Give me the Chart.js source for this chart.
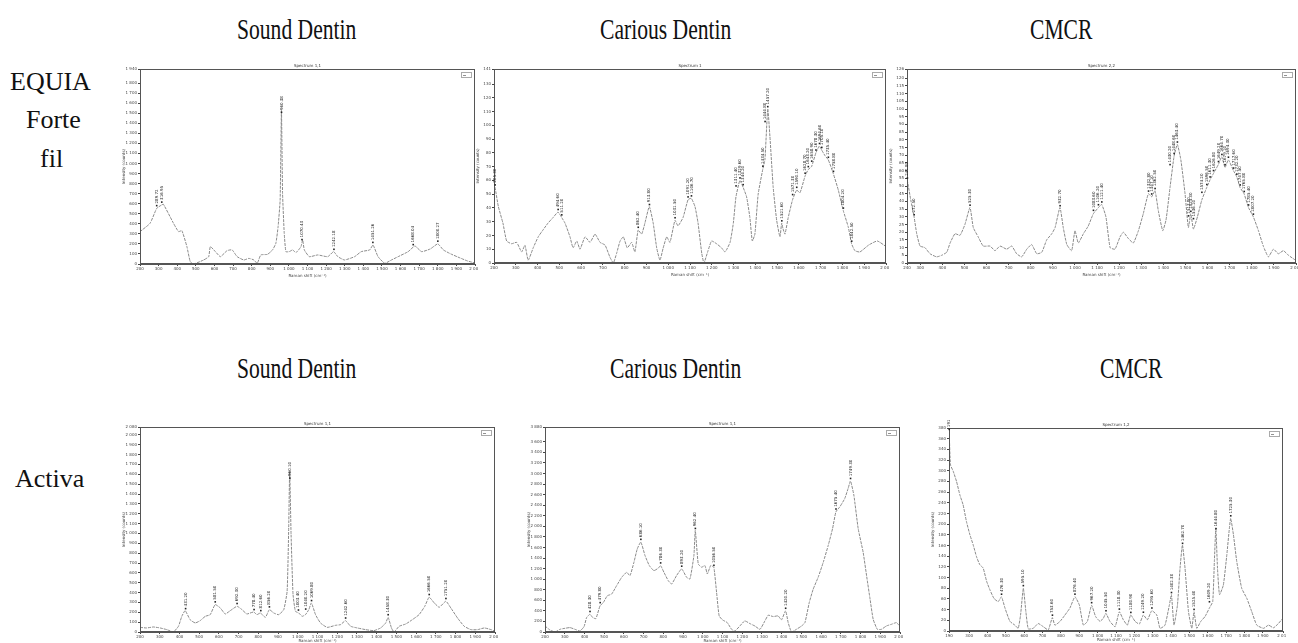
<!DOCTYPE html>
<html>
<head>
<meta charset="utf-8">
<script src="https://cdn.jsdelivr.net/npm/chart.js@4.4.0/dist/chart.umd.min.js"></script>
<style>
  body { margin: 0; background: #fff; width: 1298px; height: 643px; overflow: hidden; position: relative; }
  .lab { position: absolute; font-family: "Liberation Serif", "Times New Roman", serif; color: #111; white-space: nowrap; line-height: 1; transform-origin: 0 0; }
  .panel { position: absolute; }
</style>
</head>
<body>

<script>
// EQUIA Forte fil - sound dentin
const equiaSoundX = [200,254,290,317,326,380,407,425,452,470,488,542,569,578,605,632,668,695,722,758,785,812,830,849,885,912,930,942,953,960,966,975,984,1002,1020,1038,1065,1074,1083,1110,1155,1209,1240,1263,1299,1353,1389,1434,1452,1479,1515,1551,1587,1641,1677,1713,1760,1800,1830,1870,1920,1960,2000];
const equiaSoundY = [322,405,554,588,594,405,322,332,173,23,0,40,73,173,123,73,133,140,73,40,56,40,7,90,96,140,206,372,637,1534,704,305,123,123,140,113,173,239,140,73,90,73,123,73,40,73,123,140,189,73,7,40,73,123,179,123,150,200,140,100,60,30,10];
const equiaSoundPeaks = [289.72, 316.95, 960.38, 1070.43, 1242.18, 1451.26, 1668.04, 1800.27];

// EQUIA Forte fil - carious dentin
const equiaCariousX = [205,220,241,258,281,304,327,342,357,380,403,425,448,471,494,511,526,549,563,580,595,618,641,664,687,710,733,748,763,779,794,812,832,847,862,878,893,913,931,947,962,977,993,1008,1031,1045,1068,1091,1106,1123,1137,1154,1164,1183,1199,1222,1245,1261,1284,1299,1311,1329,1344,1360,1375,1386,1398,1413,1434,1444,1457,1467,1482,1498,1513,1521,1527,1536,1551,1571,1590,1605,1628,1643,1658,1678,1694,1705,1720,1735,1758,1781,1804,1827,1842,1857,1880,1920,1960,2000];
const equiaCariousY = [55,41,29,16,14,15,8,13,2,11,19,24,29,33,37,33,29,19,11,16,10,19,15,21,15,13,4,0,7,16,19,11,15,8,24,21,29,41,29,11,2,11,19,15,31,27,33,46,47,41,29,7,0,9,16,14,11,8,15,29,48,60,55,48,33,16,21,50,68,75,112,92,55,31,19,29,25,21,33,46,53,51,63,68,70,80,85,82,78,75,65,53,38,26,14,9,8,13,16,12];
const equiaCariousPeaks = [205.3, 494.6, 511.2, 862.4, 913.8, 1031.5, 1091.2, 1106.7, 1311.4, 1329.6, 1344.2, 1434.5, 1444.8, 1457.2, 1521.6, 1571.3, 1590.1, 1628.7, 1643.2, 1658.9, 1678.3, 1694.6, 1705.1, 1735.4, 1758.8, 1804.2, 1842.5];

// EQUIA Forte fil - CMCR
const equiaCmcrX = [241,257,272,284,299,321,344,374,397,420,435,457,480,502,525,540,562,585,616,638,661,691,714,736,759,782,804,827,850,872,895,910,932,947,963,985,1000,1015,1038,1060,1083,1106,1121,1140,1159,1181,1204,1219,1241,1264,1287,1309,1332,1347,1362,1377,1397,1412,1430,1448,1463,1479,1498,1513,1524,1536,1554,1574,1596,1611,1626,1649,1664,1679,1694,1717,1732,1747,1765,1785,1807,1830,1852,1875,1898,1920,1943,1966,1996];
const equiaCmcrY = [54,41,30,19,11,10,6,4,5,7,13,19,18,25,36,23,17,11,11,8,11,9,11,6,4,9,12,6,7,15,19,23,36,23,12,8,21,13,19,24,32,36,38,30,10,9,17,20,16,13,21,32,45,43,47,34,21,28,49,69,77,67,45,23,32,22,30,41,49,54,58,64,69,62,67,60,56,49,45,36,30,21,11,4,9,6,8,5,2];
const equiaCmcrPeaks = [241.8, 272.5, 525.3, 932.7, 1083.6, 1106.2, 1121.4, 1332.8, 1347.1, 1362.5, 1430.2, 1448.6, 1463.4, 1513.8, 1524.3, 1536.1, 1574.2, 1596.5, 1611.3, 1626.8, 1649.2, 1664.7, 1679.1, 1694.3, 1717.6, 1732.2, 1747.5, 1765.8, 1785.4, 1807.2];

// Activa - sound dentin
const activaSoundX = [200,234,268,302,336,369,395,412,429,454,480,505,531,556,581,607,632,658,692,717,742,776,793,810,836,856,878,903,929,946,954,959,966,976,988,1005,1022,1039,1056,1069,1090,1115,1149,1192,1217,1242,1268,1302,1344,1386,1420,1446,1458,1475,1488,1514,1547,1581,1615,1644,1666,1692,1717,1751,1776,1810,1844,1878,1912,1946,1980,2000];
const activaSoundY = [47,41,51,41,24,0,58,159,217,125,92,115,159,176,278,244,183,217,261,227,183,203,176,193,149,227,193,176,227,414,1058,1634,990,380,210,193,159,176,227,295,176,92,47,68,75,115,58,41,24,14,41,92,149,41,0,58,81,125,176,261,353,295,251,312,244,142,58,24,24,41,24,7];
const activaSoundPeaks = [431.2, 581.5, 692.3, 778.4, 812.6, 856.2, 960.1, 1003.4, 1040.2, 1069.8, 1242.6, 1458.3, 1666.5, 1751.2];

// Activa - carious dentin
const activaCariousX = [200,225,251,276,301,327,352,377,398,411,428,442,458,479,496,516,538,563,589,614,631,651,668,686,707,729,752,774,786,803,825,842,867,893,918,935,955,962,977,994,1011,1023,1040,1056,1070,1083,1100,1124,1146,1163,1188,1213,1239,1264,1290,1315,1332,1357,1382,1399,1420,1433,1450,1475,1501,1518,1540,1560,1585,1611,1636,1658,1675,1695,1720,1737,1749,1766,1788,1813,1833,1847,1864,1885,1906,1931,1957,1982,1995];
const activaCariousY = [114,38,0,51,70,83,51,19,102,273,337,273,254,495,559,686,718,876,1035,1130,1067,1321,1575,1702,1448,1257,1162,1207,1257,1130,972,908,1067,1194,1035,1003,1448,1924,1289,1226,1257,1099,1257,1226,749,305,229,178,51,19,114,210,159,114,51,210,318,292,305,229,400,178,0,51,114,178,559,813,1035,1321,1638,1956,2273,2369,2527,2718,2858,2591,1956,1511,1003,654,241,51,51,114,146,178,127];
const activaCariousPeaks = [428.3, 479.8, 686.1, 786.3, 893.2, 962.4, 1056.5, 1420.2, 1675.4, 1749.3];

// Activa - CMCR
const activaCmcrX = [191,198,213,231,249,267,285,304,322,340,358,376,395,413,435,458,476,495,522,549,567,580,595,609,622,649,676,704,731,753,767,795,822,849,876,900,922,944,967,989,1013,1031,1045,1067,1095,1118,1140,1162,1180,1204,1227,1249,1271,1295,1322,1340,1367,1391,1402,1416,1435,1449,1462,1476,1495,1513,1525,1540,1562,1585,1609,1627,1636,1644,1653,1664,1685,1704,1718,1725,1740,1758,1785,1813,1840,1867,1904,1931,1958,1985,2009];
const activaCmcrY = [374,311,299,280,255,236,205,180,161,139,124,118,93,77,61,55,64,43,18,11,5,30,80,36,4,5,14,8,2,25,11,18,30,43,64,49,11,18,48,27,18,24,33,18,8,36,21,11,30,18,13,30,21,38,30,5,11,49,68,11,49,118,161,118,36,5,36,5,18,27,43,55,130,193,118,68,86,143,193,211,180,130,80,61,36,11,5,11,6,14,24];
const activaCmcrPeaks = [191.2, 476.3, 595.1, 753.6, 876.4, 967.2, 1045.5, 1118.3, 1180.9, 1249.2, 1295.6, 1402.3, 1462.7, 1525.4, 1609.2, 1644.8, 1725.3];

// headings and row labels
const columnTitles = ["Sound Dentin", "Carious Dentin", "CMCR"];
const rowTitles = [["EQUIA", "Forte", "fil"], ["Activa"]];
const spectrumTitles = ["Spectrum 1,1", "Spectrum 1", "Spectrum 2,2", "Spectrum 1,1", "Spectrum 1,1", "Spectrum 1,2"];

// text placement
function addLabel(text, left, baseline, size, sx) {
  const d = document.createElement("div");
  d.className = "lab";
  d.textContent = text;
  d.style.left = left + "px";
  d.style.top = (baseline - 0.836 * size) + "px";
  d.style.fontSize = size + "px";
  d.style.transform = "scaleX(" + sx + ")";
  document.body.appendChild(d);
}
addLabel(columnTitles[0], 237, 39, 30, 0.72);
addLabel(columnTitles[1], 600, 39, 30, 0.72);
addLabel(columnTitles[2], 1030, 39, 30, 0.72);
addLabel(columnTitles[0], 237, 378, 30, 0.72);
addLabel(columnTitles[1], 610, 378, 30, 0.72);
addLabel(columnTitles[2], 1100, 378, 30, 0.72);
addLabel(rowTitles[0][0], 10, 91, 26, 1);
addLabel(rowTitles[0][1], 26, 129, 26, 1);
addLabel(rowTitles[0][2], 40, 168, 26, 1);
addLabel(rowTitles[1][0], 15, 488, 26, 1);

// interpolate curve height at a peak position (for label placement)
function valAt(xs, ys, p) {
  for (let i = 0; i < xs.length - 1; i++) {
    if (p >= xs[i] && p <= xs[i + 1]) {
      const t = (p - xs[i]) / (xs[i + 1] - xs[i]);
      return Math.max(ys[i] + t * (ys[i + 1] - ys[i]), Math.max(ys[i], ys[i + 1]) * 0.9);
    }
  }
  return p < xs[0] ? ys[0] : ys[ys.length - 1];
}

const fmtTick = (v) => String(Math.round(v)).replace(/\B(?=(\d{3})+$)/g, " ");

const panelInfo = {};

const spectrumDecor = {
  id: "spectrumDecor",
  afterDatasetsDraw(chart) {
    const info = panelInfo[chart.canvas.id];
    if (!info) return;
    const { ctx, chartArea: a, scales } = chart;
    ctx.save();
    // frame
    ctx.strokeStyle = "#555";
    ctx.lineWidth = 1;
    ctx.strokeRect(Math.round(a.left) + 0.5, Math.round(a.top) + 0.5, Math.round(a.right - a.left) - 1, Math.round(a.bottom - a.top) - 1);
    // small title
    ctx.fillStyle = "#333";
    ctx.font = '4px "DejaVu Sans"';
    ctx.textAlign = "center";
    ctx.textBaseline = "bottom";
    ctx.fillText(info.title, (a.left + a.right) / 2, a.top - 1);
    // legend box
    ctx.strokeStyle = "#aaa";
    ctx.strokeRect(Math.round(a.right) - 13.5, Math.round(a.top) + 3.5, 10, 5);
    ctx.fillStyle = "#777";
    ctx.fillRect(Math.round(a.right) - 12, Math.round(a.top) + 6, 3, 0.8);
    // peak labels
    ctx.fillStyle = "#222";
    ctx.font = '4px "DejaVu Sans"';
    ctx.textAlign = "left";
    ctx.textBaseline = "middle";
    info.peaks.forEach((p) => {
      const px = scales.x.getPixelForValue(p);
      const py = scales.y.getPixelForValue(valAt(info.xs, info.ys, p)) - 2;
      ctx.fillRect(px - 0.8, py - 1.6, 1.6, 1.6);
      ctx.save();
      ctx.translate(px, py - 3);
      ctx.rotate(-Math.PI / 2);
      ctx.fillText(p.toFixed(2), 0, 0);
      ctx.restore();
    });
    ctx.restore();
  },
};

function makePanel(key, xs, ys, peaks, box, axes, title) {
  const yw = 18, padT = 8, padR = 3;
  const div = document.createElement("div");
  div.className = "panel";
  const w = box.R - box.L + yw + padR;
  const h = box.B - box.T + padT + axes.xh;
  div.style.left = (box.L - yw) + "px";
  div.style.top = (box.T - padT) + "px";
  div.style.width = w + "px";
  div.style.height = h + "px";
  const cv = document.createElement("canvas");
  cv.id = key;
  cv.width = w;
  cv.height = h;
  div.appendChild(cv);
  document.body.appendChild(div);
  panelInfo[key] = { xs, ys, peaks, title };

  const tickFont = { size: 4, family: "DejaVu Sans" };
  return new Chart(cv, {
    type: "line",
    data: {
      datasets: [
        {
          data: xs.map((x, i) => ({ x: x, y: ys[i] })),
          borderColor: "#8a8a8a",
          borderWidth: 1,
          borderDash: [3, 1],
          pointRadius: 0,
          tension: 0.15,
          fill: false,
        },
      ],
    },
    options: {
      responsive: false,
      animation: false,
      layout: { padding: { top: padT, right: padR, left: 0, bottom: 0 } },
      plugins: { legend: { display: false }, tooltip: { enabled: false }, title: { display: false } },
      scales: {
        x: {
          type: "linear",
          min: axes.xMin,
          max: axes.xMax,
          ticks: { stepSize: 100, autoSkip: false, maxRotation: 0, font: tickFont, color: "#444", padding: 1, callback: fmtTick },
          grid: { display: true, drawOnChartArea: false, tickLength: 2, color: "#444" },
          border: { color: "#555" },
          title: { display: true, text: "Raman shift (cm⁻¹)", font: tickFont, color: "#444", padding: 0 },
          afterFit(s) { s.height = axes.xh; s.paddingLeft = 0; s.paddingRight = 0; },
        },
        y: {
          min: 0,
          max: axes.yMax,
          ticks: { stepSize: axes.yStep, autoSkip: false, font: tickFont, color: "#444", padding: 1, callback: fmtTick },
          grid: { display: true, drawOnChartArea: false, tickLength: 2, color: "#444" },
          border: { color: "#555" },
          title: { display: true, text: "Intensity (counts)", font: tickFont, color: "#444", padding: 0 },
          afterFit(s) { s.width = yw; s.paddingTop = 0; s.paddingBottom = 0; },
        },
      },
    },
    plugins: [spectrumDecor],
  });
}

makePanel("p1", equiaSoundX, equiaSoundY, equiaSoundPeaks, { L: 140, R: 475, T: 69, B: 264 }, { xMin: 200, xMax: 2000, yMax: 1940, yStep: 100, xh: 14 }, spectrumTitles[0]);
makePanel("p2", equiaCariousX, equiaCariousY, equiaCariousPeaks, { L: 494, R: 886, T: 69, B: 263 }, { xMin: 200, xMax: 2000, yMax: 141, yStep: 10, xh: 14 }, spectrumTitles[1]);
makePanel("p3", equiaCmcrX, equiaCmcrY, equiaCmcrPeaks, { L: 907, R: 1296, T: 69, B: 263 }, { xMin: 240, xMax: 2000, yMax: 126, yStep: 5, xh: 14 }, spectrumTitles[2]);
makePanel("p4", activaSoundX, activaSoundY, activaSoundPeaks, { L: 140, R: 495, T: 427, B: 632 }, { xMin: 200, xMax: 2000, yMax: 2080, yStep: 100, xh: 11 }, spectrumTitles[3]);
makePanel("p5", activaCariousX, activaCariousY, activaCariousPeaks, { L: 545, R: 900, T: 427, B: 632 }, { xMin: 200, xMax: 2000, yMax: 3880, yStep: 200, xh: 11 }, spectrumTitles[4]);
makePanel("p6", activaCmcrX, activaCmcrY, activaCmcrPeaks, { L: 949, R: 1283, T: 428, B: 631 }, { xMin: 190, xMax: 2010, yMax: 380, yStep: 20, xh: 11 }, spectrumTitles[5]);
</script>
</body>
</html>
